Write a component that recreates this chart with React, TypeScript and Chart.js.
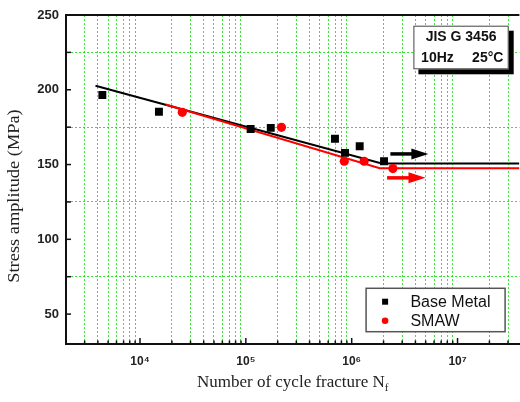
import React, { useEffect, useRef } from 'react';
import { Chart, registerables } from 'chart.js';

Chart.register(...registerables);

// ---- data ----
const baseMetalCycles = [4410, 15100, 111000, 172000, 695000, 865000, 1190000, 2020000];
const baseMetalStress = [196.5, 185.3, 173.8, 174.5, 167.3, 157.8, 162.2, 152.2];
const smawCycles = [25100, 217000, 851000, 1310000, 2450000];
const smawStress = [184.9, 174.9, 152.2, 152.2, 147.3];

const baseFitCycles = [3800, 1920000, 38400000];
const baseFitStress = [202.7, 150.7, 150.7];
const smawFitCycles = [17500, 1840000, 38400000];
const smawFitStress = [190.1, 147.5, 147.5];

const baseArrowCycles = [2320000, 5300000];
const baseArrowStress = 157.1;
const smawArrowCycles = [2160000, 4980000];
const smawArrowStress = 141.1;

const xDecades = [1e3, 1e4, 1e5, 1e6, 1e7];
const xLabelValues = [1e4, 1e5, 1e6, 1e7];
const xLabelTexts = ['10\u2074', '10\u2075', '10\u2076', '10\u2077'];
const yMajorValues = [50, 100, 150, 200, 250];
const yMinorValues = [75, 125, 175, 225];

const xMin = 2000;
const xMax = 38400000;
const yMin = 30;
const yMax = 250;

const boxLine1 = 'JIS G 3456';
const boxLine2Left = '10Hz';
const boxLine2Right = '25\u00B0C';
const xTitle = 'Number of cycle fracture N';
const xTitleSub = 'f';
const yTitle = 'Stress amplitude (MPa)';

const GRID_GREEN = 'rgba(20,225,20,0.85)';
const VIEW_W = 520;
const CANVAS_W = 525;

const xAllTicks: number[] = [];
xDecades.forEach((d) => {
  for (let m = 1; m <= 9; m++) {
    const v = d * m;
    if (v >= xMin && v <= xMax) xAllTicks.push(v);
  }
});

const isDecade = (v: number) => Math.abs(Math.log10(v) - Math.round(Math.log10(v))) < 1e-9;

const decorPlugin = {
  id: 'decor',
  afterDatasetsDraw(chart: any) {
    const { ctx, scales } = chart;
    const x = scales.x;
    const y = scales.y;
    const drawArrow = (cx: number[], sv: number, color: string) => {
      const px0 = x.getPixelForValue(cx[0]);
      const px1 = x.getPixelForValue(cx[1]);
      const py = y.getPixelForValue(sv);
      ctx.save();
      ctx.strokeStyle = color;
      ctx.fillStyle = color;
      ctx.lineWidth = 3.5;
      ctx.beginPath();
      ctx.moveTo(px0, py);
      ctx.lineTo(px1 - 14, py);
      ctx.stroke();
      ctx.beginPath();
      ctx.moveTo(px1, py);
      ctx.lineTo(px1 - 17, py - 5.5);
      ctx.lineTo(px1 - 17, py + 5.5);
      ctx.closePath();
      ctx.fill();
      ctx.restore();
    };
    drawArrow(baseArrowCycles, baseArrowStress, '#000');
    drawArrow(smawArrowCycles, smawArrowStress, '#ff0000');
  },
  afterDraw(chart: any) {
    const { ctx, chartArea: a, scales } = chart;
    const x = scales.x;
    const y = scales.y;
    const R = Math.min(a.right, VIEW_W);
    ctx.save();
    // top frame line
    ctx.strokeStyle = '#111';
    ctx.lineWidth = 2;
    ctx.beginPath();
    ctx.moveTo(a.left, a.top);
    ctx.lineTo(a.right, a.top);
    ctx.stroke();

    // inside tick marks
    ctx.lineWidth = 1.5;
    ctx.strokeStyle = '#111';
    xAllTicks.forEach((v) => {
      const px = x.getPixelForValue(v);
      if (px < a.left + 2 || px > a.right) return;
      const len = isDecade(v) ? 6 : 3.5;
      ctx.beginPath();
      ctx.moveTo(px, a.bottom);
      ctx.lineTo(px, a.bottom - len);
      ctx.stroke();
    });
    [...yMajorValues, ...yMinorValues].forEach((v) => {
      const py = y.getPixelForValue(v);
      ctx.beginPath();
      ctx.moveTo(a.left, py);
      ctx.lineTo(a.left + 5, py);
      ctx.stroke();
    });

    // JIS box
    const bx = R - 106;
    const by = a.top + 10.7;
    const bw = 95.3;
    const bh = 43.6;
    ctx.fillStyle = '#000';
    ctx.fillRect(bx + 5, by + 5, bw, bh);
    ctx.fillStyle = '#fff';
    ctx.fillRect(bx, by, bw, bh);
    ctx.strokeStyle = '#444';
    ctx.lineWidth = 1;
    ctx.strokeRect(bx + 0.5, by + 0.5, bw - 1, bh - 1);
    ctx.fillStyle = '#111';
    ctx.font = 'bold 14px "Liberation Sans", Arial, sans-serif';
    ctx.textBaseline = 'middle';
    ctx.textAlign = 'center';
    ctx.fillText(boxLine1, bx + bw / 2, by + 11);
    ctx.textAlign = 'left';
    ctx.fillText(boxLine2Left, bx + 7.7, by + 32.6);
    ctx.textAlign = 'right';
    ctx.fillText(boxLine2Right, bx + bw - 5.3, by + 32.6);

    // legend box
    const lx = R - 153.3;
    const ly = a.bottom - 55.7;
    const lw = 139;
    const lh = 43.4;
    ctx.fillStyle = '#fff';
    ctx.fillRect(lx, ly, lw, lh);
    ctx.strokeStyle = '#555';
    ctx.lineWidth = 1.5;
    ctx.strokeRect(lx, ly, lw, lh);
    const ds = chart.data.datasets;
    const items = [
      { label: ds[1].label, color: ds[1].backgroundColor, shape: 'rect', yy: ly + 13.4 },
      { label: ds[0].label, color: ds[0].backgroundColor, shape: 'circle', yy: ly + 32.4 },
    ];
    ctx.font = '16px "Liberation Sans", Arial, sans-serif';
    ctx.textAlign = 'left';
    ctx.textBaseline = 'middle';
    items.forEach((it) => {
      ctx.fillStyle = it.color;
      if (it.shape === 'rect') {
        ctx.fillRect(lx + 16, it.yy - 3, 6, 6);
      } else {
        ctx.beginPath();
        ctx.arc(lx + 19, it.yy, 3.3, 0, Math.PI * 2);
        ctx.fill();
      }
      ctx.fillStyle = '#111';
      ctx.fillText(it.label, lx + 44.3, it.yy + 0.5);
    });

    // axis titles
    ctx.fillStyle = '#222';
    ctx.font = '17px "Liberation Serif", "Times New Roman", serif';
    ctx.textBaseline = 'alphabetic';
    const mainW = ctx.measureText(xTitle).width;
    ctx.font = '11px "Liberation Serif", "Times New Roman", serif';
    const subW = ctx.measureText(xTitleSub).width;
    const cx = (a.left + R) / 2;
    const startX = cx - (mainW + subW) / 2;
    ctx.font = '17px "Liberation Serif", "Times New Roman", serif';
    ctx.textAlign = 'left';
    ctx.fillText(xTitle, startX, 386.7);
    ctx.font = '11px "Liberation Serif", "Times New Roman", serif';
    ctx.fillText(xTitleSub, startX + mainW, 390.5);

    ctx.save();
    ctx.translate(15, 196);
    ctx.rotate(-Math.PI / 2);
    ctx.font = '17px "Liberation Serif", "Times New Roman", serif';
    ctx.textAlign = 'center';
    ctx.textBaseline = 'middle';
    ctx.scale(1.08, 1);
    ctx.fillText(yTitle, 0, 0);
    ctx.restore();

    ctx.restore();
  },
};

export default function App() {
  const canvasRef = useRef<HTMLCanvasElement | null>(null);

  useEffect(() => {
    if (!canvasRef.current) return;
    const toXY = (xs: number[], ys: number[]) => xs.map((v, i) => ({ x: v, y: ys[i] }));
    const chart = new Chart(canvasRef.current, {
      type: 'scatter',
      data: {
        datasets: [
          {
            label: 'SMAW',
            data: toXY(smawCycles, smawStress),
            pointStyle: 'circle',
            pointRadius: 4.6,
            backgroundColor: '#ff0000',
            borderColor: '#ff0000',
            borderWidth: 0,
            showLine: false,
          },
          {
            label: 'Base Metal',
            data: toXY(baseMetalCycles, baseMetalStress),
            pointStyle: 'rect',
            pointRadius: 5.6,
            backgroundColor: '#000000',
            borderColor: '#000000',
            borderWidth: 0,
            showLine: false,
          },
          {
            label: 'SMAW fit',
            data: toXY(smawFitCycles, smawFitStress),
            showLine: true,
            pointRadius: 0,
            borderColor: '#ff0000',
            backgroundColor: '#ff0000',
            borderWidth: 2,
            tension: 0,
          },
          {
            label: 'Base Metal fit',
            data: toXY(baseFitCycles, baseFitStress),
            showLine: true,
            pointRadius: 0,
            borderColor: '#000000',
            backgroundColor: '#000000',
            borderWidth: 2,
            tension: 0,
          },
        ],
      },
      options: {
        responsive: false,
        animation: false,
        devicePixelRatio: 1,
        layout: { padding: { top: 15, right: 0, left: 0, bottom: 0 } },
        plugins: {
          legend: { display: false },
          tooltip: { enabled: false },
        },
        scales: {
          x: {
            type: 'logarithmic',
            min: xMin,
            max: xMax,
            afterBuildTicks: (scale: any) => {
              scale.ticks = xAllTicks.map((v) => ({ value: v, major: isDecade(v) }));
            },
            afterFit: (scale: any) => {
              scale.height = 58;
              scale.paddingLeft = 0;
              scale.paddingRight = 0;
            },
            ticks: {
              autoSkip: false,
              maxRotation: 0,
              minRotation: 0,
              padding: 10,
              color: '#222',
              font: { family: '"Liberation Sans", Arial, sans-serif', size: 12, weight: 'bold' },
              callback: (value: any) => {
                const idx = xLabelValues.findIndex((v) => Math.abs(v - Number(value)) / v < 1e-6);
                return idx >= 0 ? xLabelTexts[idx] : '';
              },
            },
            grid: {
              drawTicks: false,
              lineWidth: 1,
              color: (c: any) => {
                const v = c.tick ? c.tick.value : 0;
                if (!v || isDecade(v) || v <= xMin) return 'rgba(0,0,0,0)';
                return GRID_GREEN;
              },
            },
            border: { display: true, color: '#111', width: 2, dash: [2, 2] },
          },
          y: {
            type: 'linear',
            min: yMin,
            max: yMax,
            afterBuildTicks: (scale: any) => {
              scale.ticks = [...yMajorValues, ...yMinorValues]
                .sort((p, q) => p - q)
                .map((v) => ({ value: v }));
            },
            afterFit: (scale: any) => {
              scale.width = 66;
              scale.paddingTop = 0;
              scale.paddingBottom = 0;
            },
            ticks: {
              padding: 7,
              color: '#222',
              font: { family: '"Liberation Sans", Arial, sans-serif', size: 13, weight: 'bold' },
              callback: (value: any) => (yMajorValues.includes(Number(value)) ? String(value) : ''),
            },
            grid: {
              drawTicks: false,
              lineWidth: 1,
              color: (c: any) => {
                const v = c.tick ? c.tick.value : 0;
                return yMinorValues.includes(v) ? GRID_GREEN : 'rgba(0,0,0,0)';
              },
            },
            border: { display: true, color: '#111', width: 2, dash: [2, 2] },
          },
        },
      },
      plugins: [decorPlugin],
    } as any);
    return () => chart.destroy();
  }, []);

  return (
    <div
      style={{
        position: 'fixed',
        left: 0,
        top: 0,
        width: VIEW_W,
        height: 402,
        overflow: 'hidden',
        background: '#fff',
      }}
    >
      <canvas ref={canvasRef} width={CANVAS_W} height={402} style={{ display: 'block' }} />
    </div>
  );
}
